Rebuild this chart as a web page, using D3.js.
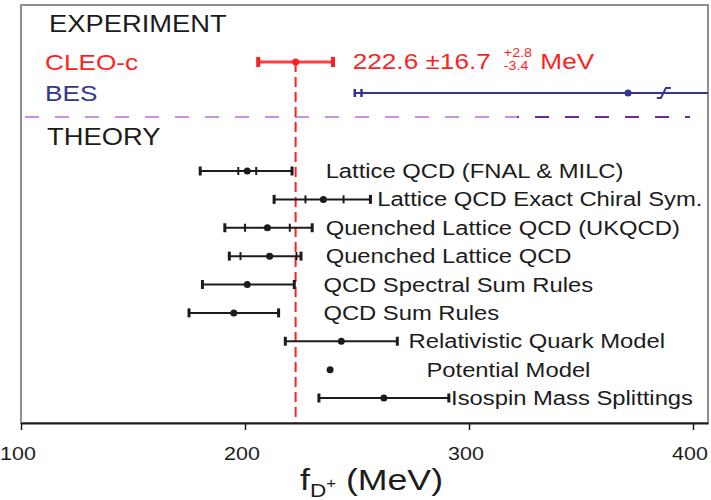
<!DOCTYPE html>
<html lang="en">
<head>
<meta charset="UTF-8">
<title>f_D+ : experiment vs theory</title>
<script src="https://cdn.jsdelivr.net/npm/d3@7"></script>
<style>
  body { margin: 0; background: #fff; }
  svg text { font-family: "Liberation Sans", Arial, sans-serif; }
</style>
</head>
<body>
<svg width="711" height="500"></svg>
<script>

// experiment rows
var expNames = ['CLEO-c', 'BES']
var expValue = [222.6, 371]
var expLo = [205.9, 252]
var expHi = [239.3, 500]
var besSysLo = 249
var besBreak = 387
var cleoText = ['222.6 \u00b116.7', '+2.8', '-3.4', 'MeV']

// theory rows
var theoryNames = [
    'Lattice QCD (FNAL & MILC)',
    'Lattice QCD Exact Chiral Sym.',
    'Quenched Lattice QCD (UKQCD)',
    'Quenched Lattice QCD',
    'QCD Spectral Sum Rules',
    'QCD Sum Rules',
    'Relativistic Quark Model',
    'Potential Model',
    'Isospin Mass Splittings'
]
var theoryValue = [201, 235, 210, 211, 201, 195, 243, 238, 262]
var statLo = [197, 227, 200, 198, null, null, null, null, null]
var statHi = [205, 244, 220, 223, null, null, null, null, null]
var totLo = [180, 213, 191, 193, 181, 175, 218, null, 233]
var totHi = [221, 256, 230, 225, 222, 215, 268, null, 291]
// where each label starts, in MeV along the axis
var labelAt = [236, 259, 236, 236, 235, 235, 273, 281, 292]

var xTicks = [100, 200, 300, 400]

var SX = 1.19   // the original is stretched sideways
var ink = '#1c1c1c'
var red = '#ff1f1f'
var blue = '#35358f'

var svg = d3.select('svg')

var x = d3.scaleLinear().domain([100, 406.7]).range([21, 708])
var yExp = d3.scalePoint().domain(expNames).range([62, 93])
var yTh = d3.scalePoint().domain(theoryNames).range([171, 398])
var axisY = 423

function txt(parent, px, py, s, size, color, anchor) {
    return parent.append('text')
        .attr('transform', `translate(${px},${py}) scale(${SX},1)`)
        .attr('font-size', size)
        .attr('fill', color)
        .attr('text-anchor', anchor || 'start')
        .text(s)
}

function cap(parent, px, py, h, w, color) {
    parent.append('rect')
        .attr('x', px - w / 2).attr('y', py - h / 2)
        .attr('width', w).attr('height', h)
        .attr('fill', color)
}

var defs = svg.append('defs')
defs.append('clipPath').attr('id', 'frame')
    .append('rect').attr('x', 21).attr('y', 5).attr('width', 687).attr('height', axisY - 5)
var grad = defs.append('linearGradient').attr('id', 'sep')
    .attr('gradientUnits', 'userSpaceOnUse').attr('x1', 25).attr('x2', 690)
grad.append('stop').attr('offset', 0.74).attr('stop-color', '#cc8fdb')
grad.append('stop').attr('offset', 0.74).attr('stop-color', '#742a92')

// frame
svg.append('rect')
    .attr('x', 21).attr('y', 5).attr('width', 687).attr('height', axisY - 5)
    .attr('fill', 'none').attr('stroke', '#8e8e8e').attr('stroke-width', 2)

// headings
txt(svg, 49, 32, 'EXPERIMENT', 23, ink)
txt(svg, 47, 145, 'THEORY', 23, ink)

// separator
svg.append('line')
    .attr('x1', 25).attr('x2', 690).attr('y1', 117).attr('y2', 117)
    .attr('stroke', 'url(#sep)').attr('stroke-width', 2)
    .attr('stroke-dasharray', '14,16')

// CLEO-c reference line
svg.append('line')
    .attr('x1', x(expValue[0])).attr('x2', x(expValue[0]))
    .attr('y1', yExp('CLEO-c')).attr('y2', axisY)
    .attr('stroke', red).attr('stroke-width', 2)
    .attr('stroke-dasharray', '10,5')

// CLEO-c
var yc = yExp('CLEO-c')
txt(svg, 45, yc + 8, 'CLEO-c', 22, red)
svg.append('line')
    .attr('x1', x(expLo[0])).attr('x2', x(expHi[0]))
    .attr('y1', yc).attr('y2', yc)
    .attr('stroke', red).attr('stroke-width', 3).attr('stroke-opacity', 0.85)
cap(svg, x(expLo[0]), yc, 10, 4, red)
cap(svg, x(expHi[0]), yc, 10, 4, red)
svg.append('circle').attr('cx', x(expValue[0])).attr('cy', yc).attr('r', 3.5).attr('fill', red)

var note = svg.append('g').attr('transform', `translate(352.7,${yc + 7}) scale(${SX},1)`)
var main = note.append('text').attr('font-size', 22).attr('fill', red).text(cleoText[0])
var mw = main.node().getComputedTextLength() + 11
var up = note.append('text').attr('x', mw).attr('y', -12.5).attr('font-size', 12).attr('fill', red).text(cleoText[1])
var dn = note.append('text').attr('x', mw).attr('y', 0.5).attr('font-size', 12).attr('fill', red).text(cleoText[2])
var sw = Math.max(up.node().getComputedTextLength(), dn.node().getComputedTextLength())
note.append('text').attr('x', mw + sw + 7).attr('font-size', 22).attr('fill', red).text(cleoText[3])

// BES
var yb = yExp('BES')
txt(svg, 45, yb + 8, 'BES', 22, blue)
var bes = svg.append('g').attr('clip-path', 'url(#frame)')
bes.append('line')
    .attr('x1', x(besSysLo)).attr('x2', x(expHi[1]))
    .attr('y1', yb).attr('y2', yb)
    .attr('stroke', blue).attr('stroke-width', 2)
cap(bes, x(besSysLo), yb, 8, 2.5, blue)
cap(bes, x(expLo[1]), yb, 8, 2.5, blue)
bes.append('circle').attr('cx', x(expValue[1])).attr('cy', yb).attr('r', 3.5).attr('fill', blue)
var bx = x(besBreak)
bes.append('path')
    .attr('d', `M${bx - 7},${yb + 5} H${bx - 3} L${bx + 2},${yb - 5} H${bx + 7}`)
    .attr('fill', 'none').attr('stroke', blue).attr('stroke-width', 2)

// theory
theoryNames.forEach((name, i) => {
    var yy = yTh(name)
    if (totLo[i] != null) {
        svg.append('line')
            .attr('x1', x(totLo[i])).attr('x2', x(totHi[i]))
            .attr('y1', yy).attr('y2', yy)
            .attr('stroke', ink).attr('stroke-width', 2)
        cap(svg, x(totLo[i]), yy, 9, 3, ink)
        cap(svg, x(totHi[i]), yy, 9, 3, ink)
    }
    if (statLo[i] != null) {
        cap(svg, x(statLo[i]), yy, 8, 2, ink)
        cap(svg, x(statHi[i]), yy, 8, 2, ink)
    }
    svg.append('circle').attr('cx', x(theoryValue[i])).attr('cy', yy).attr('r', 3.5).attr('fill', ink)
    txt(svg, x(labelAt[i]), yy + 7, name, 20, ink)
})

// axis
var ax = svg.append('g')
    .attr('transform', `translate(0,${axisY})`)
    .call(d3.axisBottom(x).tickValues(xTicks).tickSize(7).tickSizeOuter(0).tickFormat(d3.format('d')))
ax.select('.domain').attr('stroke', ink).attr('stroke-width', 2)
ax.selectAll('.tick line').attr('stroke', ink).attr('stroke-width', 1.5)
ax.selectAll('.tick text')
    .attr('y', 37).attr('dy', 0).attr('x', -3)
    .attr('font-size', 18).attr('font-family', '"Liberation Sans", Arial, sans-serif')
    .attr('fill', ink)
    .attr('transform', `scale(${SX},1)`)

// axis title
var title = svg.append('text')
    .attr('transform', `translate(300,490) scale(${SX},1)`)
    .attr('fill', ink)
title.append('tspan').attr('font-size', 30).text('f')
title.append('tspan').attr('font-size', 19).attr('dy', 7).text('D')
title.append('tspan').attr('font-size', 14).attr('dy', -9).text('+')
title.append('tspan').attr('font-size', 30).attr('dy', 2).text(' (MeV)')

</script>
</body>
</html>
